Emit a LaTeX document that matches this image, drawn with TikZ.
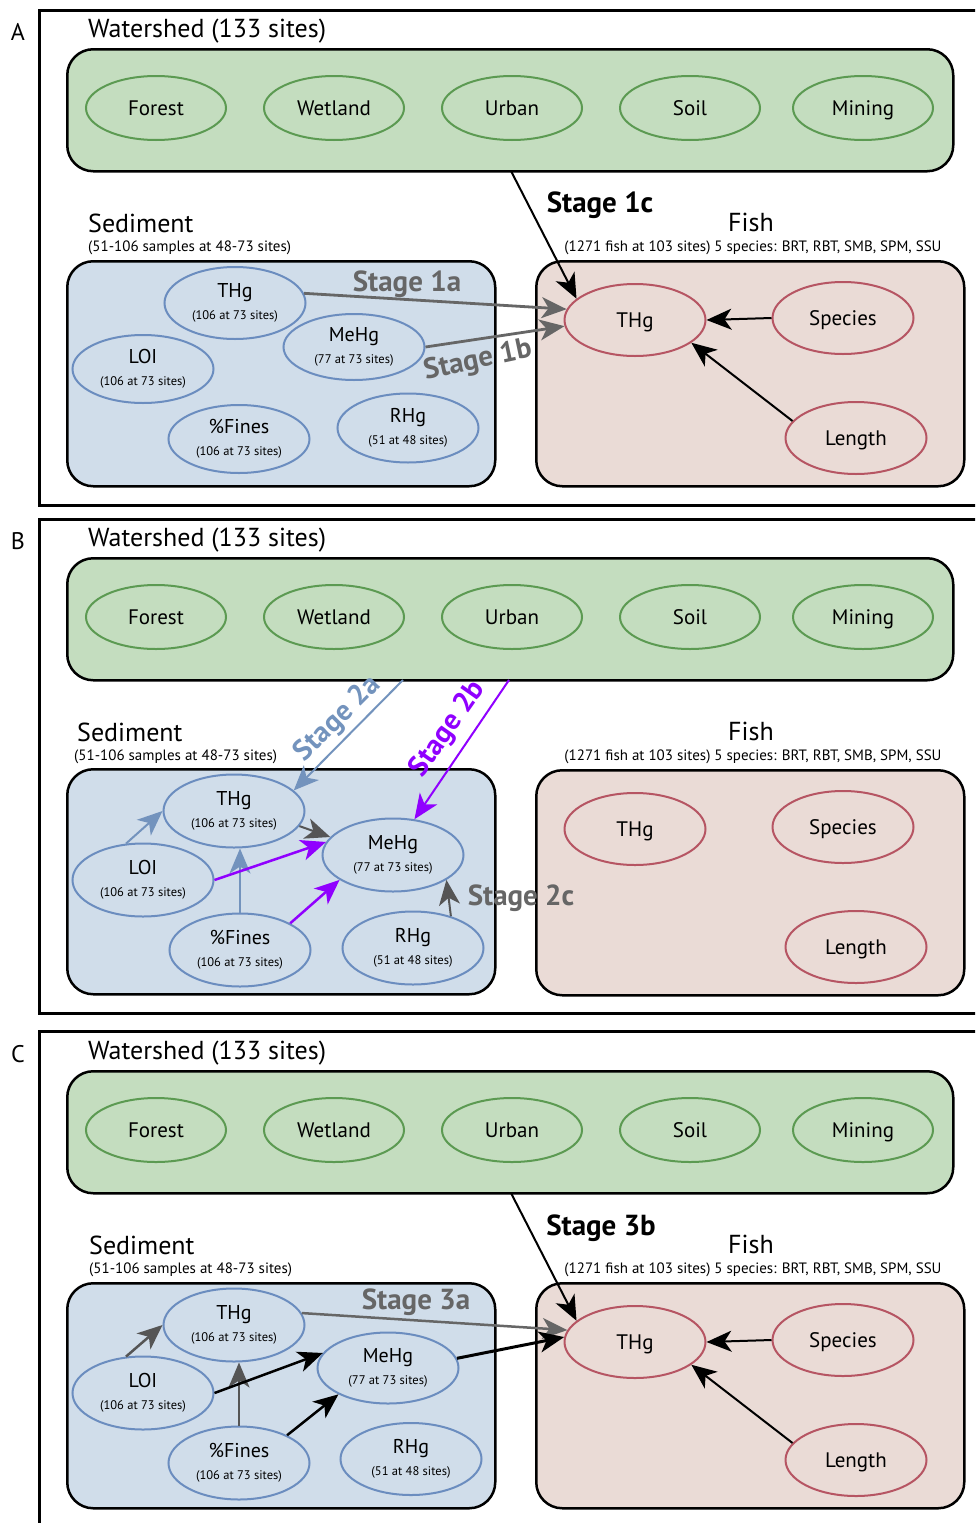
\documentclass[tikz,border=0pt]{standalone}
\usepackage{fontspec}
\setmainfont{PT Sans}
\usetikzlibrary{shapes.geometric,arrows.meta}
\definecolor{wsfill}{HTML}{C4DDBF}
\definecolor{wsline}{HTML}{5C9A52}
\definecolor{sedfill}{HTML}{D0DDEA}
\definecolor{sedline}{HTML}{6B8DBF}
\definecolor{fishfill}{HTML}{EADBD6}
\definecolor{fishline}{HTML}{B65563}
\definecolor{greyarr}{HTML}{666666}
\definecolor{darkarr}{HTML}{555555}
\definecolor{bluearr}{HTML}{7393BD}
\definecolor{purp}{HTML}{9000FF}
\newcommand{\titlefont}{\fontsize{26}{30}\selectfont}
\newcommand{\subfont}{\fontsize{15}{17}\selectfont}
\newcommand{\stagefont}{\fontsize{29}{32}\selectfont\bfseries}
\newcommand{\sedsmall}{\fontsize{12.5}{14}\selectfont}
\newcommand{\sedtxt}[2]{#1\\{\sedsmall #2}}
\tikzset{
  box/.style={draw=black, line width=2.5pt, rounded corners=26pt, anchor=north west, inner sep=0pt},
  wsell/.style={ellipse, draw=wsline, line width=2pt, minimum width=140pt, minimum height=64pt, inner sep=0pt, text height=15pt, text depth=0pt, font=\fontsize{21}{24}\selectfont},
  sedell/.style={ellipse, draw=sedline, line width=2pt, minimum width=141pt, minimum height=71pt, inner sep=0pt, align=center, font=\fontsize{20}{22}\selectfont},
  fishell/.style={ellipse, draw=fishline, line width=2pt, minimum width=141pt, minimum height=72pt, inner sep=0pt, text height=15pt, text depth=0pt, font=\fontsize{21}{24}\selectfont},
  arr/.style={-{Stealth[length=25pt,width=21pt,inset=7pt]}, line width=2pt},
  frame/.style={line width=3pt},
  stagelbl/.style={font=\stagefont, inner sep=0pt},
}
\newcommand{\wsblock}[2]{%
\begin{scope}[shift={(0,#2)}]
  \node[anchor=west, font=\titlefont, inner sep=0pt] (#1wstitle) at (88,31) {Watershed (133 sites)};
  \node[box, fill=wsfill, minimum width=886pt, minimum height=122pt] (#1ws) at (66,48) {};
  \node[wsell] (#1forest) at (156,108) {Forest};
  \node[wsell] (#1wetland) at (334,108) {Wetland};
  \node[wsell] (#1urban) at (512,108) {Urban};
  \node[wsell] (#1soil) at (690,108) {Soil};
  \node[wsell] (#1mining) at (863,108) {Mining};
  \node[font=\titlefont, inner sep=0pt] (#1fishtitle) at (751,222) {Fish};
  \node[font=\subfont, inner sep=0pt] (#1fishsub) at (753,248) {(1271 fish at 103 sites) 5 species: BRT, RBT, SMB, SPM, SSU};
  \node[box, fill=fishfill, minimum width=428pt, minimum height=225pt] (#1fish) at (535,260) {};
  \node[fishell] (#1fthg) at (635,320) {THg};
  \node[fishell] (#1spec) at (843,318) {Species};
  \node[fishell] (#1len) at (856,438) {Length};
\end{scope}}
\begin{document}
\begin{tikzpicture}[x=1pt,y=-1pt]
\useasboundingbox (0,0) rectangle (975,1523);
\clip (0,0) rectangle (975,1523);
\fill[white] (0,0) rectangle (975,1523);
% ================= Panel A =================
\node[font=\fontsize{24}{26}\selectfont, inner sep=0pt] (labA) at (18,32) {A};
\draw[frame] (990,10) -- (39,10) -- (39,505) -- (990,505);
\wsblock{A}{0}
\node[anchor=west, font=\titlefont, inner sep=0pt] (Asedtitle) at (88,223) {Sediment};
\node[anchor=west, font=\subfont, inner sep=0pt] (Asedsub) at (88,248) {(51-106 samples at 48-73 sites)};
\node[box, fill=sedfill, minimum width=428pt, minimum height=225pt] (Ased) at (66,260) {};
\node[sedell, minimum height=72pt] (ATHg) at (235,303) {\sedtxt{THg}{(106 at 73 sites)}};
\node[sedell, minimum height=66pt] (AMeHg) at (354,347) {\sedtxt{MeHg}{(77 at 73 sites)}};
\node[sedell, minimum height=68pt] (ALOI) at (143,369) {\sedtxt{LOI}{(106 at 73 sites)}};
\node[sedell, minimum height=68pt] (AFines) at (239,439) {\sedtxt{\%Fines}{(106 at 73 sites)}};
\node[sedell, minimum height=69pt] (ARHg) at (408,428) {\sedtxt{RHg}{(51 at 48 sites)}};
\coordinate (Astart) at (511,171);
\draw[arr, black] (Astart) -- (Afthg.160);
\node[stagelbl, black] (Alab1c) at (600,205) {Stage 1c};
\draw[arr, greyarr, line width=2.8pt] (ATHg.8) -- (Afthg.171);
\node[stagelbl, greyarr] (Alab1a) at (407,284) {Stage 1a};
\draw[arr, greyarr, line width=2.8pt] (AMeHg.east) -- (Afthg.185);
\node[stagelbl, greyarr, rotate=12] (Alab1b) at (478,361) {Stage 1b};
\draw[arr, black] (Aspec.west) -- (Afthg.east);
\draw[arr, black] (Alen.165) -- (Afthg.-22);
% ================= Panel B =================
\node[font=\fontsize{24}{26}\selectfont, inner sep=0pt] (labB) at (18,541) {B};
\draw[frame] (990,519) -- (39,519) -- (39,1013) -- (990,1013);
\wsblock{B}{509}
\node[anchor=west, font=\titlefont, inner sep=0pt] (Bsedtitle) at (77,732) {Sediment};
\node[anchor=west, font=\subfont, inner sep=0pt] (Bsedsub) at (74,757) {(51-106 samples at 48-73 sites)};
\node[box, fill=sedfill, minimum width=428pt, minimum height=225pt] (Bsed) at (66,768) {};
\node[sedell, minimum height=73pt] (BTHg) at (234,811) {\sedtxt{THg}{(106 at 73 sites)}};
\node[sedell, minimum height=73pt] (BMeHg) at (393,855) {\sedtxt{MeHg}{(77 at 73 sites)}};
\node[sedell, minimum height=73pt] (BLOI) at (143,880) {\sedtxt{LOI}{(106 at 73 sites)}};
\node[sedell, minimum height=73pt] (BFines) at (240,950) {\sedtxt{\%Fines}{(106 at 73 sites)}};
\node[sedell, minimum height=73pt] (BRHg) at (413,948) {\sedtxt{RHg}{(51 at 48 sites)}};
\coordinate (Bstarta) at (403,680);
\coordinate (Bstartb) at (509,680);
\draw[arr, bluearr] (Bstarta) -- (BTHg.19);
\node[stagelbl, bluearr, rotate=45] (Blab2a) at (338,719) {Stage 2a};
\draw[arr, purp] (Bstartb) -- (BMeHg.59);
\node[stagelbl, purp, rotate=55] (Blab2b) at (448,729) {Stage 2b};
\draw[arr, bluearr] (BLOI.115) -- (BTHg.west);
\draw[arr, bluearr] (BFines.north) -- (BFines.north |- BTHg.south);
\draw[arr, darkarr] (BTHg.347) -- (BMeHg.164);
\draw[arr, purp, line width=2.5pt] (BLOI.east) -- (BMeHg.169);
\draw[arr, purp, line width=2.5pt] (BFines.28) -- (BMeHg.205);
\draw[arr, darkarr] (BRHg.40) -- (BMeHg.335);
\node[stagelbl, greyarr] (Blab2c) at (521,898) {Stage 2c};
% ================= Panel C =================
\node[font=\fontsize{24}{26}\selectfont, inner sep=0pt] (labC) at (18,1054) {C};
\draw[frame] (990,1031) -- (39,1031) -- (39,1540);
\wsblock{C}{1022}
\node[anchor=west, font=\titlefont, inner sep=0pt] (Csedtitle) at (89,1245) {Sediment};
\node[anchor=west, font=\subfont, inner sep=0pt] (Csedsub) at (89,1270) {(51-106 samples at 48-73 sites)};
\node[box, fill=sedfill, minimum width=428pt, minimum height=225pt] (Csed) at (66,1282) {};
\node[sedell, minimum height=73pt] (CTHg) at (234,1325) {\sedtxt{THg}{(106 at 73 sites)}};
\node[sedell, minimum height=71pt] (CMeHg) at (388,1368) {\sedtxt{MeHg}{(77 at 73 sites)}};
\node[sedell, minimum height=73pt] (CLOI) at (143,1393) {\sedtxt{LOI}{(106 at 73 sites)}};
\node[sedell, minimum height=73pt] (CFines) at (239,1463) {\sedtxt{\%Fines}{(106 at 73 sites)}};
\node[sedell, minimum height=72pt] (CRHg) at (411,1459) {\sedtxt{RHg}{(51 at 48 sites)}};
\coordinate (Cstart) at (511,1193);
\draw[arr, black] (Cstart) -- (Cfthg.160);
\node[stagelbl, black] (Clab3b) at (601,1228) {Stage 3b};
\draw[arr, greyarr, line width=2.5pt] (CTHg.10) -- (Cfthg.170);
\node[stagelbl, greyarr] (Clab3a) at (416,1302) {Stage 3a};
\draw[arr, black, line width=3pt] (CMeHg.8) -- (Cfthg.176);
\draw[arr, darkarr, line width=2.5pt] (CLOI.115) -- (CTHg.west);
\draw[arr, darkarr, line width=2.5pt] (CFines.north) -- (CFines.north |- CTHg.south);
\draw[arr, black, line width=2.5pt] (CLOI.east) -- (CMeHg.167);
\draw[arr, black, line width=2.5pt] (CFines.30) -- (CMeHg.208);
\draw[arr, black] (Cspec.west) -- (Cfthg.east);
\draw[arr, black] (Clen.165) -- (Cfthg.-22);
\end{tikzpicture}
\end{document}
